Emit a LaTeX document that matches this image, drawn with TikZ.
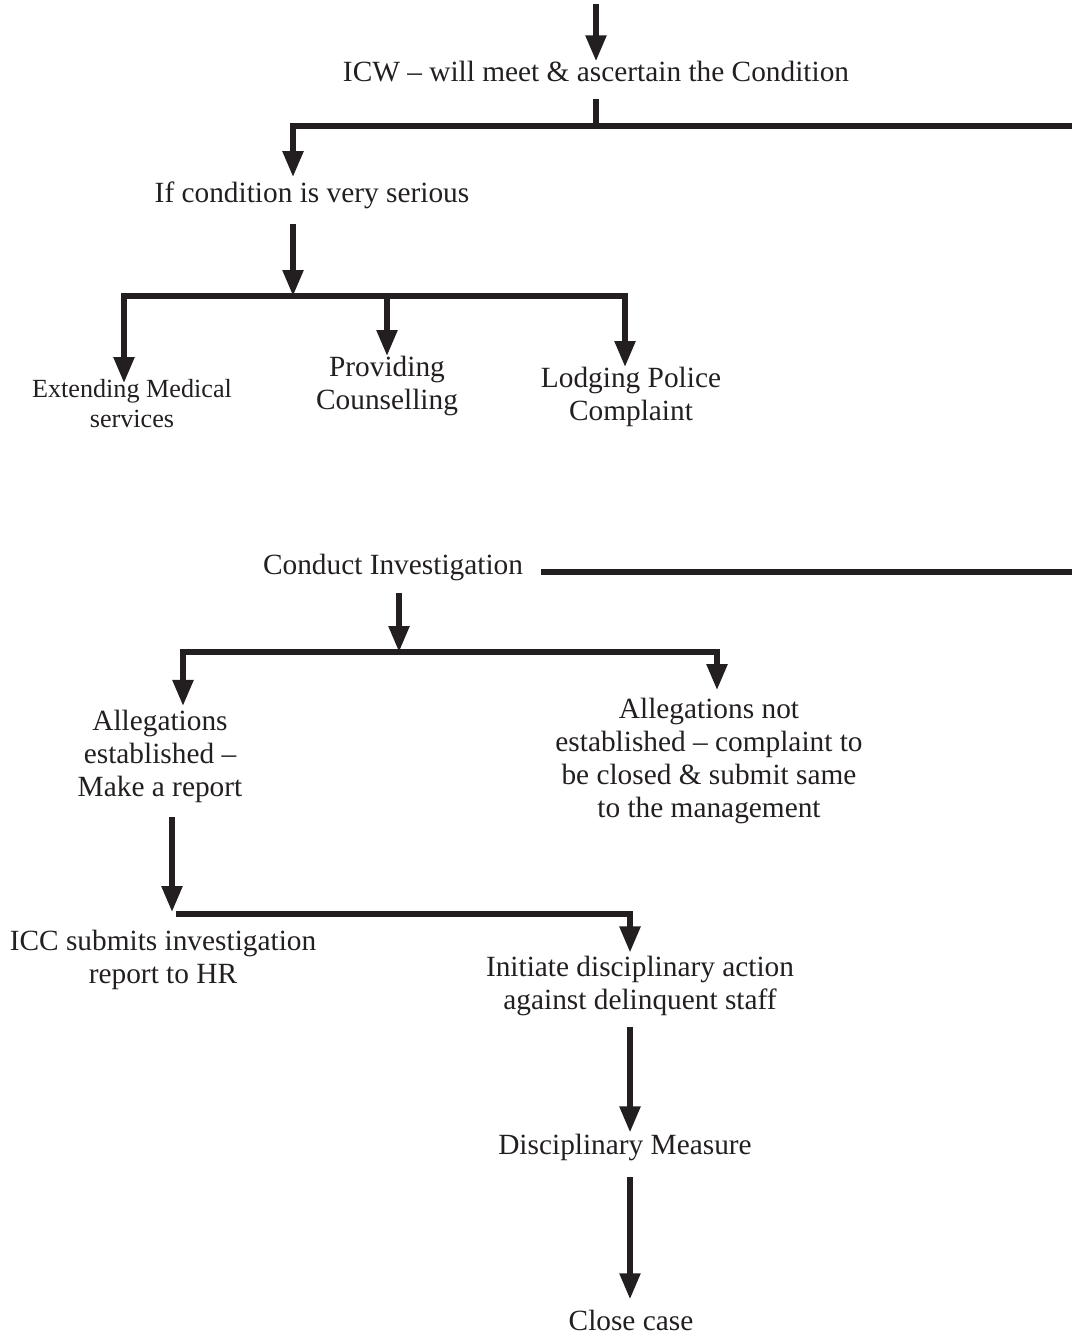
\documentclass[tikz,border=0pt]{standalone}
\usepackage{fontspec}
\setmainfont{Liberation Serif}
\usepackage{xcolor}
\usetikzlibrary{arrows.meta}
\definecolor{ink}{RGB}{35,31,32}

\begin{document}
\begin{tikzpicture}[x=0.02cm, y=-0.02cm,
        every node/.style={inner sep=0pt, align=center, text=ink, font=\fontsize{16.7}{18.8}\selectfont},
        small/.style={font=\fontsize{14.9}{17}\selectfont},
        ln/.style={line width=3.1pt, draw=ink},
        arr/.style={ln, -{Triangle[length=0.52cm, width=0.4cm]}}]
                \useasboundingbox (0,0) rectangle (1072,1337);

                \node[anchor=base] (ICW) at (596,82) {ICW – will meet \& ascertain the Condition};
                \node[anchor=base] (SER) at (312,203) {If condition is very serious};
                \node[small, anchor=north] (MED) at (132,379) {Extending Medical\\services};
                \node[anchor=north] (CNS) at (387,356) {Providing\\Counselling};
                \node[anchor=north] (POL) at (631,367) {Lodging Police\\Complaint};
                \node[anchor=base] (INV) at (393,574) {Conduct Investigation};
                \node[anchor=north] (EST) at (160,710) {Allegations\\established –\\Make a report};
                \node[anchor=north] (NEST) at (709,698) {Allegations not\\established – complaint to\\be closed \& submit same\\to the management};
                \node[anchor=north] (ICC) at (163,930) {ICC submits investigation\\report to HR};
                \node[anchor=north] (ACT) at (640,956) {Initiate disciplinary action\\against delinquent staff};
                \node[anchor=base] (DM) at (625,1154) {Disciplinary Measure};
                \node[anchor=base] (CL) at (631,1330) {Close case};

                \coordinate (IN) at (596,4);
                \coordinate (J1) at (596,126);
                \coordinate (E1) at (1072,126);
                \coordinate (K1) at (293,126);
                \coordinate (J2) at (293,296);
                \coordinate (B1) at (124,296);
                \coordinate (B2) at (387,296);
                \coordinate (B3) at (625,296);
                \coordinate (E2) at (1072,572);
                \coordinate (J3) at (399,652);
                \coordinate (C1) at (183,652);
                \coordinate (C2) at (717,652);
                \coordinate (J4) at (172,912);
                \coordinate (H4) at (176,914);
                \coordinate (K4) at (630,914);

                \draw[arr] (IN) -- (ICW.north);
                \draw[ln, shorten <=9pt] (J1 |- ICW.south) -- (J1);
                \draw[arr, shorten >=2.8pt] (E1) -- (K1) -- (K1 |- SER.north);
                \draw[arr, shorten <=8pt] (K1 |- SER.south) -- (J2);
                \draw[arr, shorten >=-2.3pt] (J2) -- (B1) -- (B1 |- MED.north);
                \draw[arr] (J2) -- (B3) -- (B3 |- POL.north);
                \draw[arr] (B2) -- (CNS.north);
                \draw[ln, shorten <=10pt] (INV.east |- E2) -- (E2);
                \draw[arr, shorten <=7pt] (J3 |- INV.south) -- (J3);
                \draw[arr, shorten >=2.3pt] (J3) -- (C1) -- (C1 |- EST.north);
                \draw[arr, shorten >=4.5pt] (J3) -- (C2) -- (C2 |- NEST.north);
                \draw[arr, shorten <=8pt] (J4 |- EST.south) -- (J4);
                \draw[arr, shorten >=2pt] (H4) -- (K4) -- (K4 |- ACT.north);
                \draw[arr, shorten <=6pt, shorten >=0.5pt] (K4 |- ACT.south) -- (K4 |- DM.north);
                \draw[arr, shorten <=9.4pt, shorten >=5.7pt] (K4 |- DM.south) -- (K4 |- CL.north);
\end{tikzpicture}
\end{document}
